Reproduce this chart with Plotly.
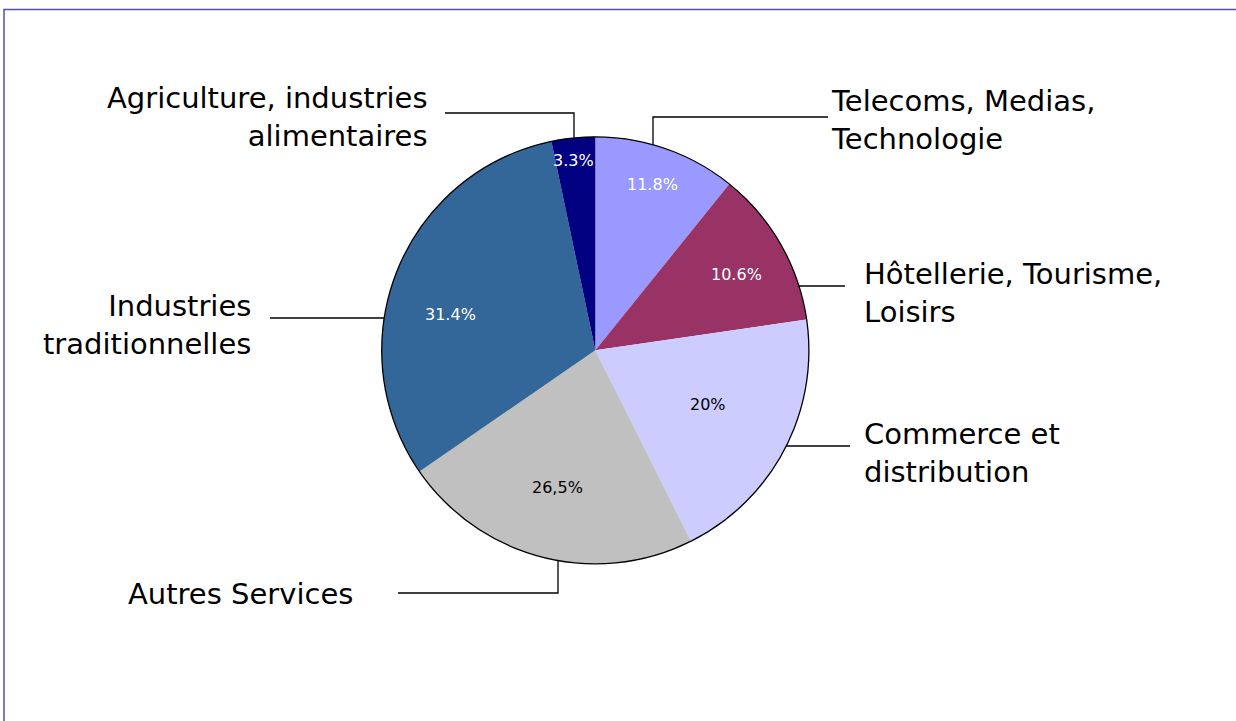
import math
import plotly.graph_objects as go

# ---- data ----
sectors = ["Telecoms, Medias, Technologie", "Hôtellerie, Tourisme, Loisirs",
           "Commerce et distribution", "Autres Services",
           "Industries traditionnelles", "Agriculture, industries alimentaires"]
# slice sizes as drawn in the picture (measured from slice angles)
values = [10.8, 11.9, 19.9, 22.8, 31.3, 3.3]
# labels as printed on the chart
value_labels = ["11.8%", "10.6%", "20%", "26,5%", "31.4%", "3.3%"]
label_texts = ["Telecoms, Medias,<br>Technologie", "Hôtellerie, Tourisme,<br>Loisirs",
               "Commerce et<br>distribution", "Autres Services",
               "Industries<br>traditionnelles", "Agriculture, industries<br>alimentaires"]

# ---- styles ----
colors = ["#9999FF", "#993366", "#CCCCFF", "#C0C0C0", "#336699", "#000080"]
text_colors = ["white", "white", "black", "black", "white", "white"]
label_radius = [0.82, 0.75, 0.585, 0.665, 0.70, 0.895]   # fraction of pie radius
label_angle_nudge = [-0.5, 1.5, -2.0, 1.0, -8.0, -0.7]   # degrees

# ---- layout geometry (pixels) ----
W, H = 1236, 721
CX, CY, R = 595.3, 350.3, 213.5
FONT = "DejaVu Sans"


def px(x):
    return x / W


def py(y):
    return 1 - y / H


dom = dict(x=[px(CX - R), px(CX + R)], y=[py(CY + R), py(CY - R)])

fig = go.Figure()
fig.add_trace(go.Pie(
    values=values, labels=sectors, text=value_labels, textinfo="none",
    marker=dict(colors=colors, line=dict(width=0)),
    sort=False, direction="clockwise", rotation=0, showlegend=False,
    domain=dom, hovertemplate="%{label}: %{text}<extra></extra>",
))
# outline circle (single-slice pie on top, transparent)
fig.add_trace(go.Pie(
    values=[1], labels=["outline"], textinfo="none", sort=False,
    marker=dict(colors=["rgba(0,0,0,0)"], line=dict(color="black", width=1.3)),
    showlegend=False, hoverinfo="skip", domain=dom,
))

annotations = []
# percentage labels at slice mid-angles (derived from the values)
total = sum(values)
cum = 0.0
for v, txt, tc, fr, dn in zip(values, value_labels, text_colors, label_radius, label_angle_nudge):
    mid = (cum + v / 2) / total * 360 + dn
    cum += v
    a = math.radians(mid)
    x = CX + fr * R * math.sin(a)
    y = CY - fr * R * math.cos(a)
    annotations.append(dict(x=px(x), y=py(y), xref="paper", yref="paper", text=txt,
                            showarrow=False, xanchor="center", yanchor="middle",
                            font=dict(family=FONT, size=16, color=tc)))


def circle_y_at_x(x, top=True):
    d = math.sqrt(max(R * R - (x - CX) ** 2, 0))
    return CY - d if top else CY + d


def circle_x_at_y(y, right=True):
    d = math.sqrt(max(R * R - (y - CY) ** 2, 0))
    return CX + d if right else CX - d


leaders = [
    [(653, circle_y_at_x(653, True)), (653, 117), (828, 117)],
    [(circle_x_at_y(286, True), 286), (845, 286)],
    [(circle_x_at_y(446, True), 446), (850, 446)],
    [(558, circle_y_at_x(558, False)), (558, 593), (398, 593)],
    [(circle_x_at_y(318, False), 318), (270, 318)],
    [(574, circle_y_at_x(574, True)), (574, 113), (445, 113)],
]

shapes = []
for pts in leaders:
    path = "M " + " L ".join(f"{px(x):.5f},{py(y):.5f}" for x, y in pts)
    shapes.append(dict(type="path", xref="paper", yref="paper", path=path,
                       line=dict(color="black", width=1.3)))

# chart area border
shapes.append(dict(type="rect", xref="paper", yref="paper",
                   x0=px(4), y0=py(730), x1=px(1245), y1=py(9.5),
                   line=dict(color="#5050a8", width=1.5)))

label_pos = [
    (829, 120, "left"),
    (862, 293, "left"),
    (862, 453, "left"),
    (355, 594, "right"),
    (253, 325, "right"),
    (430, 117, "right"),
]
for txt, (x, y, anc) in zip(label_texts, label_pos):
    annotations.append(dict(x=px(x), y=py(y), xref="paper", yref="paper",
                            text=txt, showarrow=False, xanchor=anc, yanchor="middle",
                            align=anc, font=dict(family=FONT, size=29, color="black")))

fig.update_layout(
    width=W, height=H, autosize=False,
    margin=dict(l=0, r=0, t=0, b=0),
    paper_bgcolor="white", plot_bgcolor="white",
    shapes=shapes, annotations=annotations,
    font=dict(family=FONT),
)

fig.write_html("out.html", config={"displayModeBar": False},
               post_script="document.body.style.margin='0px';document.body.style.padding='0px';")
